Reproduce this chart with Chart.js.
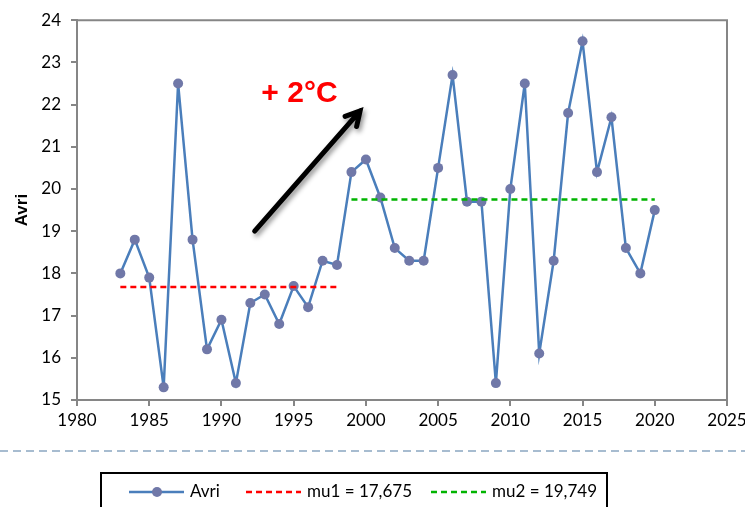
<!DOCTYPE html>
<html>
<head>
<meta charset="utf-8">
<script src="https://cdn.jsdelivr.net/npm/chart.js@4.4.1/dist/chart.umd.min.js"></script>
<style>
  html, body { margin: 0; padding: 0; background: #ffffff; }
  #wrap { width: 745px; height: 507px; position: relative; }
</style>
</head>
<body>
<div id="wrap"><canvas id="c" width="745" height="507"></canvas></div>
<script>
// April mean temperature by year
const years = [1983, 1984, 1985, 1986, 1987, 1988, 1989, 1990, 1991, 1992, 1993, 1994, 1995,
  1996, 1997, 1998, 1999, 2000, 2001, 2002, 2003, 2004, 2005, 2006, 2007, 2008, 2009, 2010,
  2011, 2012, 2013, 2014, 2015, 2016, 2017, 2018, 2019, 2020];
const avri = [18.0, 18.8, 17.9, 15.3, 22.5, 18.8, 16.2, 16.9, 15.4, 17.3, 17.5, 16.8, 17.7,
  17.2, 18.3, 18.2, 20.4, 20.7, 19.8, 18.6, 18.3, 18.3, 20.5, 22.7, 19.7, 19.7, 15.4, 20.0,
  22.5, 16.1, 18.3, 21.8, 23.5, 20.4, 21.7, 18.6, 18.0, 19.5];

// Means of the two periods
const mu1 = 17.675;
const mu1Years = [1983, 1998];
const mu2 = 19.749;
const mu2Years = [1999, 2020];

// Axis ticks
const xTicks = [1980, 1985, 1990, 1995, 2000, 2005, 2010, 2015, 2020, 2025];
const yTicks = [15, 16, 17, 18, 19, 20, 21, 22, 23, 24];

// Trend annotation (data units)
const arrowFrom = { x: 1992.3, y: 19.0 };
const arrowTo = { x: 1999.6, y: 21.85 };
const noteText = '+ 2°C';
const notePos = { x: 1995.4, y: 22.25 };

const fmt = v => v.toFixed(3).replace('.', ',');
const TICK_FONT = { family: 'Lato, "Open Sans", sans-serif', size: 17 };

const frame = {
  id: 'frame',
  afterDatasetsDraw(chart) {
    const { ctx, chartArea: a } = chart;
    ctx.save();
    ctx.strokeStyle = '#868686';
    ctx.lineWidth = 2;
    ctx.beginPath();
    ctx.moveTo(a.left, a.top);
    ctx.lineTo(a.right, a.top);
    ctx.lineTo(a.right, a.bottom);
    ctx.stroke();
    ctx.restore();
  }
};

const annotation = {
  id: 'annotation',
  afterDraw(chart) {
    const { ctx, scales: { x, y } } = chart;
    const x0 = x.getPixelForValue(arrowFrom.x), y0 = y.getPixelForValue(arrowFrom.y);
    const x1 = x.getPixelForValue(arrowTo.x), y1 = y.getPixelForValue(arrowTo.y);
    const ang = Math.atan2(y1 - y0, x1 - x0);
    const head = 16;
    ctx.save();
    ctx.shadowColor = 'rgba(0,0,0,0.45)';
    ctx.shadowBlur = 5;
    ctx.shadowOffsetX = 2;
    ctx.shadowOffsetY = 3;
    ctx.strokeStyle = '#000000';
    ctx.lineWidth = 5;
    ctx.lineCap = 'round';
    ctx.lineJoin = 'miter';
    ctx.beginPath();
    ctx.moveTo(x0, y0);
    ctx.lineTo(x1, y1);
    ctx.moveTo(x1 - head * Math.cos(ang - 0.5), y1 - head * Math.sin(ang - 0.5));
    ctx.lineTo(x1, y1);
    ctx.lineTo(x1 - head * Math.cos(ang + 0.5), y1 - head * Math.sin(ang + 0.5));
    ctx.stroke();
    ctx.restore();

    ctx.save();
    ctx.fillStyle = '#ff0000';
    ctx.font = 'bold 30px "Liberation Sans", Arial, sans-serif';
    ctx.textAlign = 'center';
    ctx.textBaseline = 'middle';
    ctx.fillText(noteText, x.getPixelForValue(notePos.x), y.getPixelForValue(notePos.y));
    ctx.restore();
  }
};

const bottomLegend = {
  id: 'bottomLegend',
  afterDraw(chart) {
    const { ctx, width } = chart;
    ctx.save();
    // separator
    ctx.strokeStyle = '#a7bcd0';
    ctx.lineWidth = 2;
    ctx.setLineDash([8, 5]);
    ctx.beginPath();
    ctx.moveTo(0, 451);
    ctx.lineTo(width, 451);
    ctx.stroke();
    ctx.setLineDash([]);
    // legend box
    ctx.strokeStyle = '#000000';
    ctx.lineWidth = 2;
    ctx.strokeRect(101, 473, 506, 50);

    const cy = 492;
    const items = [
      { ds: chart.data.datasets[0], x: 129 },
      { ds: chart.data.datasets[1], x: 246 },
      { ds: chart.data.datasets[2], x: 431 }
    ];
    ctx.font = '17px Lato, "Open Sans", sans-serif';
    ctx.textBaseline = 'middle';
    ctx.fillStyle = '#000000';
    items.forEach(it => {
      const ds = it.ds;
      ctx.strokeStyle = ds.borderColor;
      ctx.lineWidth = ds.borderWidth;
      ctx.setLineDash(ds.borderDash || []);
      ctx.beginPath();
      ctx.moveTo(it.x, cy);
      ctx.lineTo(it.x + 55, cy);
      ctx.stroke();
      ctx.setLineDash([]);
      if (ds.pointRadius > 0) {
        ctx.fillStyle = ds.pointBackgroundColor;
        ctx.beginPath();
        ctx.arc(it.x + 28, cy, ds.pointRadius, 0, Math.PI * 2);
        ctx.fill();
      }
      ctx.fillStyle = '#000000';
      ctx.fillText(ds.label, it.x + 61, cy);
    });
    ctx.restore();
  }
};

new Chart(document.getElementById('c'), {
  type: 'line',
  data: {
    datasets: [
      {
        label: 'Avri',
        data: years.map((yr, i) => ({ x: yr, y: avri[i] })),
        borderColor: '#4a7ebb',
        borderWidth: 2.5,
        pointBackgroundColor: '#7078a8',
        pointBorderWidth: 0,
        pointRadius: 5,
        tension: 0,
        order: 2
      },
      {
        label: 'mu1 = ' + fmt(mu1),
        data: mu1Years.map(yr => ({ x: yr, y: mu1 })),
        borderColor: '#ff0000',
        borderWidth: 2.5,
        borderDash: [6, 4],
        pointRadius: 0,
        order: 1
      },
      {
        label: 'mu2 = ' + fmt(mu2),
        data: mu2Years.map(yr => ({ x: yr, y: mu2 })),
        borderColor: '#00b400',
        borderWidth: 2.5,
        borderDash: [6, 4],
        pointRadius: 0,
        order: 1
      }
    ]
  },
  options: {
    responsive: false,
    animation: false,
    layout: { padding: { left: 12, right: 18, top: 20, bottom: 77 } },
    plugins: { legend: { display: false }, tooltip: { enabled: false } },
    scales: {
      x: {
        type: 'linear',
        min: xTicks[0],
        max: xTicks[xTicks.length - 1],
        afterBuildTicks: s => { s.ticks = xTicks.map(v => ({ value: v })); },
        afterFit: s => { s.height = 30; s.paddingLeft = 0; s.paddingRight = 0; },
        grid: { drawOnChartArea: false, drawTicks: true, tickLength: 6, color: '#868686', lineWidth: 2 },
        border: { display: true, color: '#868686', width: 2 },
        ticks: { color: '#000000', font: TICK_FONT, padding: 4, maxRotation: 0, callback: v => String(v) }
      },
      y: {
        type: 'linear',
        min: yTicks[0],
        max: yTicks[yTicks.length - 1],
        afterBuildTicks: s => { s.ticks = yTicks.map(v => ({ value: v })); },
        afterFit: s => { s.width = 65; },
        grid: { drawOnChartArea: false, drawTicks: true, tickLength: 6, color: '#868686', lineWidth: 2 },
        border: { display: true, color: '#868686', width: 2 },
        ticks: { color: '#000000', font: TICK_FONT, padding: 10, callback: v => String(v) },
        title: {
          display: true,
          text: 'Avri',
          color: '#000000',
          font: { family: '"Liberation Sans", Arial, sans-serif', size: 17, weight: 'bold' },
          padding: { top: 0, bottom: 0 }
        }
      }
    }
  },
  plugins: [frame, annotation, bottomLegend]
});
</script>
</body>
</html>
